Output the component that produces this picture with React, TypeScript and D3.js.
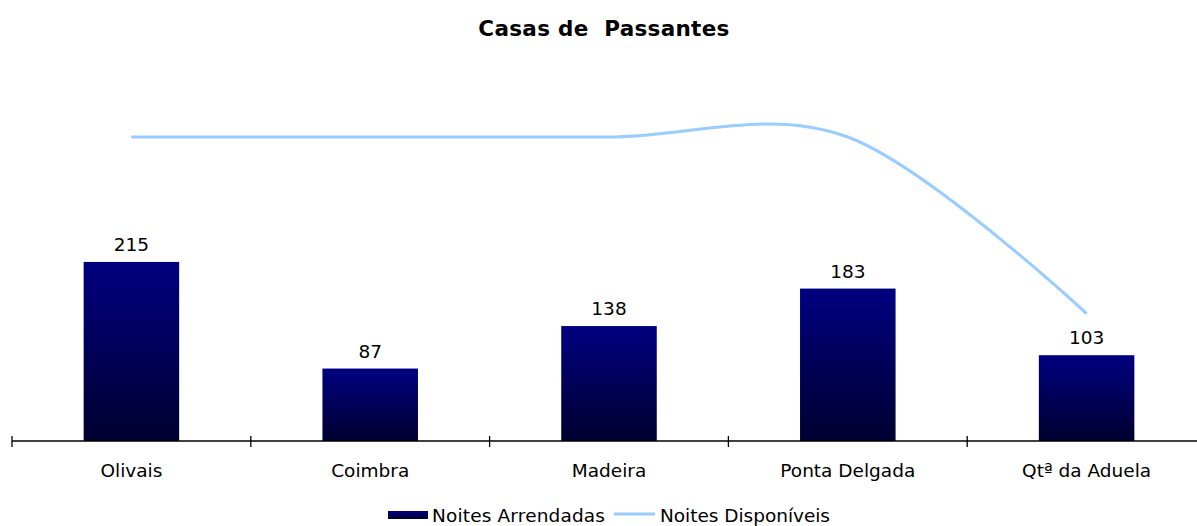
import React from "react";
import * as d3 from "d3";

const categories = ["Olivais", "Coimbra", "Madeira", "Ponta Delgada", "Qtª da Aduela"];
const noitesArrendadas = [215, 87, 138, 183, 103];
const noitesDisponiveis = [365, 365, 365, 365, 153];
const title = "Casas de  Passantes";
const seriesNames = ["Noites Arrendadas", "Noites Disponíveis"];

const W = 1197;
const H = 526;
const FONT = "'DejaVu Sans', Verdana, sans-serif";
const FS = 18.5;

export default function App() {
  const x = d3.scaleBand<string>().domain(categories).range([12, 1206]).paddingInner(0).paddingOuter(0);
  const y = d3.scaleLinear().domain([0, 365]).range([441, 137]);
  const barW = x.bandwidth() * 0.4;
  const cx = (c: string) => (x(c) as number) + x.bandwidth() / 2;

  const line = d3
    .line<number>()
    .x((_, i) => cx(categories[i]))
    .y((d) => y(d))
    .curve(d3.curveCardinal.tension(0));

  const tickXs = categories.map((c) => x(c) as number).concat([(x(categories[4]) as number) + x.bandwidth()]);

  return (
    <div style={{ position: "absolute", left: 0, top: 0 }}>
      <svg width={W} height={H} style={{ display: "block", fontFamily: FONT }}>
        <defs>
          <linearGradient id="barGrad" x1="0" y1="0" x2="0" y2="1">
            <stop offset="0%" stopColor="#000080" />
            <stop offset="100%" stopColor="#000030" />
          </linearGradient>
        </defs>
        <rect width={W} height={H} fill="#ffffff" />
        <text x={604} y={36} textAnchor="middle" fontSize={21.5} fontWeight="bold" letterSpacing={0.3} style={{ whiteSpace: "pre" }} fill="#000">
          {title}
        </text>

        {categories.map((c, i) => (
          <g key={c}>
            <rect x={cx(c) - barW / 2} y={y(noitesArrendadas[i])} width={barW} height={y(0) - y(noitesArrendadas[i])} fill="url(#barGrad)" />
            <text x={cx(c)} y={y(noitesArrendadas[i]) - 11} textAnchor="middle" fontSize={FS} fill="#000">
              {noitesArrendadas[i]}
            </text>
            <text x={cx(c)} y={476.5} textAnchor="middle" fontSize={FS} fill="#000">
              {c}
            </text>
          </g>
        ))}

        <line x1={12} x2={W} y1={441} y2={441} stroke="#000" strokeWidth={1.3} />
        {tickXs.map((t, i) => (
          <line key={i} x1={t} x2={t} y1={436} y2={447} stroke="#000" strokeWidth={1.3} />
        ))}

        <path d={line(noitesDisponiveis) || ""} fill="none" stroke="#99CCFF" strokeWidth={3} />

        <g>
          <rect x={388} y={511} width={40} height={8} fill="url(#barGrad)" />
          <text x={432} y={522} fontSize={FS} fill="#000" textLength={173} lengthAdjust="spacing">{seriesNames[0]}</text>
          <line x1={614} x2={655} y1={514} y2={514} stroke="#99CCFF" strokeWidth={3} />
          <text x={660} y={522} fontSize={FS} fill="#000" textLength={170} lengthAdjust="spacing">{seriesNames[1]}</text>
        </g>
      </svg>
    </div>
  );
}
